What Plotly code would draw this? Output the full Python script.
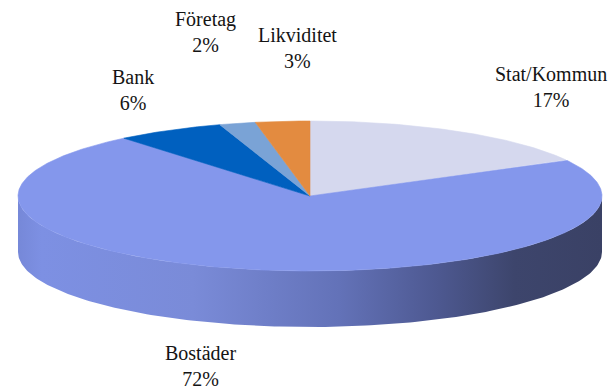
import numpy as np
import plotly.graph_objects as go

# Portfolio composition
categories = ["Stat/Kommun", "Bostäder", "Bank", "Företag", "Likviditet"]
shares = [17, 72, 6, 2, 3]
slice_colors = ["#D5D8EE", "#8497EC", "#0060BF", "#7AA3D6", "#E38B40"]

# Tilted-disc geometry (pixel-like units, y grows downward)
CX, CY = 310, 196
RX, RY = 292, 75
DEPTH = 56

# Label anchor points (label centre)
label_pos = {
    "Stat/Kommun": (551, 87),
    "Bostäder": (200, 366),
    "Bank": (133, 90),
    "Företag": (205, 32),
    "Likviditet": (297, 48),
}


def rim(theta_deg):
    t = np.radians(theta_deg)
    return CX + RX * np.sin(t), CY - RY * np.cos(t)


fig = go.Figure()

# Front wall of the disc (visible half: right edge -> bottom -> left edge)
ang = np.linspace(90, 270, 181)
tx, ty = rim(ang)
side_x = np.concatenate([tx, tx[::-1]])
side_y = np.concatenate([ty, ty[::-1] + DEPTH])
fig.add_trace(go.Scatter(
    x=side_x, y=side_y, mode="lines", fill="toself",
    line=dict(width=0),
    fillgradient=dict(
        type="horizontal",
        colorscale=[
            [0.0, "#7688d8"], [0.04, "#7d90e3"], [0.3, "#7a8bd8"],
            [0.55, "#6372b8"], [0.72, "#4d5890"], [0.85, "#3d456c"],
            [1.0, "#3a4165"],
        ],
    ),
    hoverinfo="skip", showlegend=False,
))

# Top face slices, clockwise from 12 o'clock
total = sum(shares)
start = 0.0
for name, val, col in zip(categories, shares, slice_colors):
    span = 360.0 * val / total
    a = np.linspace(start, start + span, max(int(span * 2), 4))
    px, py = rim(a)
    fig.add_trace(go.Scatter(
        x=np.concatenate([[CX], px, [CX]]),
        y=np.concatenate([[CY], py, [CY]]),
        mode="lines", fill="toself", fillcolor=col,
        line=dict(width=0.6, color=col),
        hoverinfo="skip", showlegend=False, name=name,
    ))
    start += span

# Category labels with percentages
for name, val in zip(categories, shares):
    lx, ly = label_pos[name]
    fig.add_annotation(
        x=lx, y=ly, text=f"{name}<br>{val}%", showarrow=False,
        font=dict(family="Liberation Serif", size=20, color="#141414"),
        align="center", xanchor="center", yanchor="middle",
    )

fig.update_layout(
    width=616, height=391,
    margin=dict(l=0, r=0, t=0, b=0),
    paper_bgcolor="white", plot_bgcolor="white",
    xaxis=dict(range=[0, 616], visible=False, fixedrange=True),
    yaxis=dict(range=[391, 0], visible=False, fixedrange=True),
)

fig.write_html("out.html")
